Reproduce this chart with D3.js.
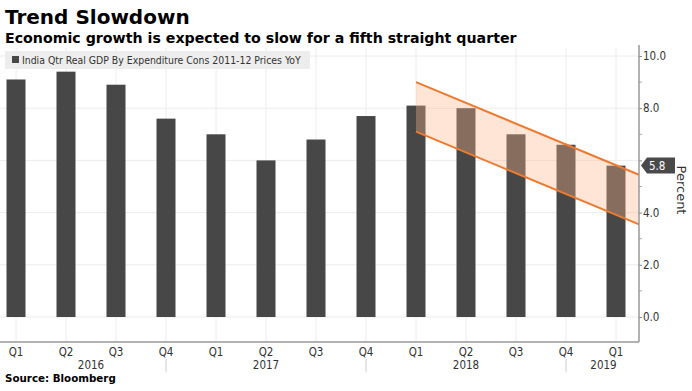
<!DOCTYPE html>
<html>
<head>
<meta charset="utf-8">
<script src="https://cdn.jsdelivr.net/npm/d3@7"></script>
<style>
  body { margin: 0; background: #fff; }
  text { font-family: "DejaVu Sans", Verdana, sans-serif; }
</style>
</head>
<body>
<script>
var quarters = ["Q1","Q2","Q3","Q4","Q1","Q2","Q3","Q4","Q1","Q2","Q3","Q4","Q1"];
var gdp = [9.1, 9.4, 8.9, 7.6, 7.0, 6.0, 6.8, 7.7, 8.1, 8.0, 7.0, 6.6, 5.8];
var years = ["2016", "2017", "2018", "2019"];
var yearPos = [1.5, 5, 9, 11.75];
var yearBreaks = [3, 7, 11];
var yTicks = [0, 2, 4, 6, 8, 10];
// trend channel: [quarter index, upper, lower]
var channelX = [8, 12.46];
var channelUpper = [9.0, 5.45];
var channelLower = [7.1, 3.55];

var width = 692, height = 391,
    plotLeft = 0, plotRight = 639, plotTop = 48, plotBottom = 342;

var svg = d3.select("body").append("svg")
    .attr("width", width)
    .attr("height", height);

var x = d3.scaleLinear().domain([-0.32, 12.46]).range([plotLeft, plotRight]);
var y = d3.scaleLinear().domain([0, 10]).range([317, 56]);

// titles
svg.append("text").attr("x", 5).attr("y", 24)
    .style("font-size", "20px").style("font-weight", "bold").attr("fill", "#000")
    .text("Trend Slowdown");
svg.append("text").attr("x", 5).attr("y", 43)
    .style("font-size", "14.2px").style("font-weight", "bold").attr("fill", "#000")
    .text("Economic growth is expected to slow for a fifth straight quarter");

// gridlines
svg.append("g").selectAll("line.v")
    .data(quarters)
    .enter().append("line")
    .attr("x1", function(d, i) { return x(i); })
    .attr("x2", function(d, i) { return x(i); })
    .attr("y1", plotTop)
    .attr("y2", plotBottom)
    .attr("stroke", "#ececec");

svg.append("g").selectAll("line.h")
    .data(yTicks)
    .enter().append("line")
    .attr("x1", plotLeft).attr("x2", plotRight)
    .attr("y1", function(d) { return y(d); })
    .attr("y2", function(d) { return y(d); })
    .attr("stroke", "#ececec");

// bars
var bw = 19;
svg.append("g").selectAll("rect")
    .data(gdp)
    .enter().append("rect")
    .attr("x", function(d, i) { return x(i) - bw / 2; })
    .attr("width", bw)
    .attr("y", function(d) { return y(d); })
    .attr("height", function(d) { return y(0) - y(d); })
    .attr("fill", "#474747");

// trend channel
var area = d3.area()
    .x(function(d) { return x(d[0]); })
    .y0(function(d) { return y(d[2]); })
    .y1(function(d) { return y(d[1]); });
var chan = channelX.map(function(d, i) { return [d, channelUpper[i], channelLower[i]]; });
svg.append("path").datum(chan)
    .attr("d", area)
    .attr("fill", "#ffb48a").attr("fill-opacity", 0.35);
[channelUpper, channelLower].forEach(function(s) {
  svg.append("path")
      .datum(channelX.map(function(d, i) { return [d, s[i]]; }))
      .attr("d", d3.line().x(function(d) { return x(d[0]); }).y(function(d) { return y(d[1]); }))
      .attr("fill", "none")
      .attr("stroke", "#ec7a30")
      .attr("stroke-width", 2);
});

// legend
svg.append("rect").attr("x", 5).attr("y", 51).attr("width", 305).attr("height", 18)
    .attr("fill", "#ededed");
svg.append("rect").attr("x", 12).attr("y", 56).attr("width", 7).attr("height", 7)
    .attr("fill", "#474747");
svg.append("text").attr("x", 22).attr("y", 64)
    .style("font-size", "10.4px").attr("fill", "#333")
    .style("font-family", "'DejaVu Sans Condensed', 'DejaVu Sans', sans-serif")
    .text("India Qtr Real GDP By Expenditure Cons 2011-12 Prices YoY");

// right axis
var yAxis = d3.axisRight(y)
    .tickValues(yTicks)
    .tickSize(3)
    .tickFormat(d3.format(".1f"));
var ya = svg.append("g").attr("transform", "translate(" + plotRight + ",0)").call(yAxis);
ya.select(".domain").remove();
ya.selectAll("text")
    .style("font-size", "11.5px")
    .style("font-family", "'DejaVu Sans Condensed', 'DejaVu Sans', sans-serif")
    .attr("fill", "#333")
    .attr("x", 4);
ya.selectAll(".tick line").attr("stroke", "#888");
ya.selectAll(".tick").filter(function(d) { return d === 6; }).select("text").remove();
svg.append("g").selectAll("line")
    .data([1, 3, 5, 7, 9])
    .enter().append("line")
    .attr("x1", plotRight).attr("x2", plotRight + 3)
    .attr("y1", function(d) { return y(d); })
    .attr("y2", function(d) { return y(d); })
    .attr("stroke", "#aaa");
svg.append("line").attr("x1", plotRight).attr("x2", plotRight)
    .attr("y1", 45).attr("y2", plotBottom)
    .attr("stroke", "#999").attr("stroke-width", 1.5);

// last value tag
var last = gdp[gdp.length - 1];
var ly = y(last);
svg.append("path")
    .attr("d", "M" + (plotRight + 2) + "," + ly + " L" + (plotRight + 8) + "," + (ly - 8) +
         " L" + (plotRight + 36) + "," + (ly - 8) + " L" + (plotRight + 36) + "," + (ly + 8) +
         " L" + (plotRight + 8) + "," + (ly + 8) + " Z")
    .attr("fill", "#4a4a4a");
svg.append("text").attr("x", plotRight + 10).attr("y", ly + 4.5)
    .style("font-size", "11.5px")
    .style("font-family", "'DejaVu Sans Condensed', 'DejaVu Sans', sans-serif")
    .attr("fill", "#fff")
    .text(d3.format(".1f")(last));

svg.append("text")
    .attr("transform", "translate(677,190) rotate(90)")
    .attr("text-anchor", "middle")
    .style("font-size", "13px")
    .attr("fill", "#333")
    .text("Percent");

// x axis
svg.append("line").attr("x1", plotLeft).attr("x2", plotRight)
    .attr("y1", plotBottom).attr("y2", plotBottom)
    .attr("stroke", "#999").attr("stroke-width", 1.5);

svg.append("g").selectAll("text")
    .data(quarters)
    .enter().append("text")
    .attr("x", function(d, i) { return x(i); })
    .attr("y", 356)
    .attr("text-anchor", "middle")
    .style("font-size", "11.5px")
    .style("font-family", "'DejaVu Sans Condensed', 'DejaVu Sans', sans-serif")
    .attr("fill", "#333")
    .text(function(d) { return d; });

svg.append("g").selectAll("text")
    .data(years)
    .enter().append("text")
    .attr("x", function(d, i) { return x(yearPos[i]); })
    .attr("y", 369)
    .attr("text-anchor", "middle")
    .style("font-size", "11.5px")
    .style("font-family", "'DejaVu Sans Condensed', 'DejaVu Sans', sans-serif")
    .attr("fill", "#333")
    .text(function(d) { return d; });

svg.append("g").selectAll("line")
    .data(yearBreaks)
    .enter().append("line")
    .attr("x1", function(d) { return x(d); })
    .attr("x2", function(d) { return x(d); })
    .attr("y1", 359).attr("y2", 372)
    .attr("stroke", "#ccc");

svg.append("text").attr("x", 5).attr("y", 382)
    .style("font-size", "10.3px").style("font-weight", "bold").attr("fill", "#000")
    .text("Source: Bloomberg");
</script>
</body>
</html>
